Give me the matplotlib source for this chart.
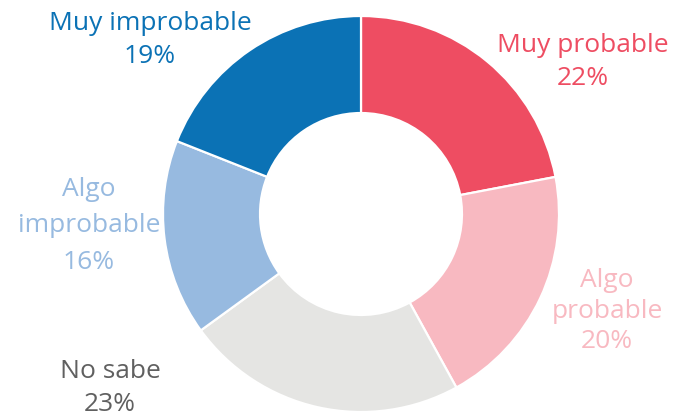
import matplotlib.pyplot as plt

# data
categories = ["Muy probable", "Algo probable", "No sabe", "Algo improbable", "Muy improbable"]
shares = [22, 20, 23, 16, 19]
colors = ["#EE4D62", "#F8B9C1", "#E5E5E3", "#97BAE0", "#0B72B5"]
label_colors = ["#EE4D62", "#F8B9C1", "#606060", "#97BAE0", "#0B72B5"]
label_text = ["Muy probable", "Algo\nprobable", "No sabe", "Algo\nimprobable", "Muy improbable"]

# label anchor (pixel coords of text block centre, y measured from top)
label_pos = [(583, 62), (607, 311), (110, 388), (89, 226), (150, 40)]
label_spacing = [1.4, 1.3, 1.4, 1.6, 1.4]

W, H = 685, 416
fig = plt.figure(figsize=(W / 100, H / 100), dpi=100)
ax = fig.add_axes([0, 0, 1, 1])

cx, cy, r = 361, H - 214, 198
ax.pie(shares, colors=colors, startangle=90, counterclock=False,
       center=(cx, cy), radius=r, frame=True,
       wedgeprops=dict(width=r * 0.49, edgecolor="white", linewidth=1.6))
ax.set_xlim(0, W)
ax.set_ylim(0, H)
ax.set_aspect("equal")
ax.axis("off")

for txt, val, col, (x, y), ls in zip(label_text, shares, label_colors, label_pos, label_spacing):
    ax.text(x, H - y, f"{txt}\n{val}%", ha="center", va="center", color=col,
            fontsize=19, family="Open Sans", linespacing=ls, zorder=5)

fig.savefig("out.png", dpi=100)
